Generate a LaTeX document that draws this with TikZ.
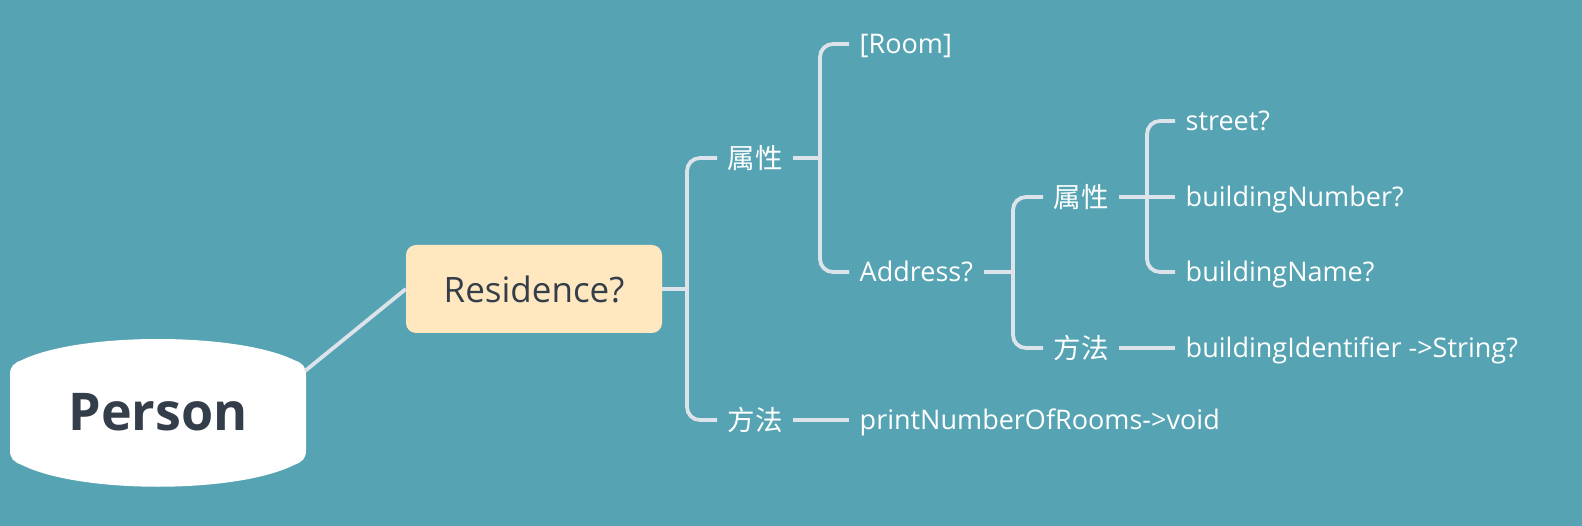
\documentclass[tikz,border=0pt]{standalone}
\usepackage{fontspec}
\setmainfont{Open Sans}
\newfontfamily\cjk{Noto Sans CJK SC}
\definecolor{bg}{HTML}{56A3B3}
\definecolor{ln}{HTML}{DCE3EA}
\definecolor{resfill}{HTML}{FFE8BF}
\definecolor{dark}{HTML}{343E4B}
\tikzset{
  conn/.style={draw=ln, line width=3.8pt, rounded corners=13pt},
  lbl/.style={anchor=west, text=white, inner xsep=10.5pt, inner ysep=0pt, text height=19.2pt, text depth=0pt, font=\fontsize{27}{29}\selectfont},
  cn/.style={lbl, text height=20.8pt, font=\cjk\fontsize{27.5}{29}\selectfont},
}
\begin{document}
\begin{tikzpicture}[x=1pt,y=-1pt]
\fill[bg] (0,0) rectangle (1582,526);
\useasboundingbox (0,0) rectangle (1582,526);
% Person shape
\fill[white] (10,375) .. controls (10,366) and (14,363) .. (22,360)
  .. controls (80,332) and (236,332) .. (294,360)
  .. controls (302,363) and (306,366) .. (306,375) -- (306,450)
  .. controls (306,459) and (302,462) .. (294,465)
  .. controls (236,494) and (80,494) .. (22,465)
  .. controls (14,462) and (10,459) .. (10,450) -- cycle;
\node[text=dark, font=\bfseries\fontsize{52}{54}\selectfont, inner sep=0pt] (person) at (158,412) {Person};
\coordinate (pr) at (305,371);
% Residence
\node[fill=resfill, rounded corners=10pt, minimum width=256pt, minimum height=88pt, inner sep=0pt, text=dark, font=\fontsize{35}{37}\selectfont] (res) at (534,289) {Residence?};
\draw[conn] (pr) -- (res.west);
% level 1
\node[cn] (a1) at (717,158) {属性};
\node[cn] (m1) at (717,420) {方法};
\coordinate (j1) at (687,289);
\draw[conn] (res.east) -- (j1);
\draw[conn] (j1) |- (a1.west);
\draw[conn] (j1) |- (m1.west);
% level 2
\node[lbl] (room) at (849,44) {[Room]};
\node[lbl] (addr) at (849,272) {Address?};
\node[lbl] (pnr) at (849,420) {printNumberOfRooms->void};
\coordinate (j2) at (820,158);
\draw[conn] (a1.east) -- (j2);
\draw[conn] (j2) |- (room.west);
\draw[conn] (j2) |- (addr.west);
\draw[conn] (m1.east) -- (pnr.west);
% level 3
\node[cn] (a2) at (1043,197) {属性};
\node[cn] (m2) at (1043,348) {方法};
\coordinate (j3) at (1013,272);
\draw[conn] (addr.east) -- (j3);
\draw[conn] (j3) |- (a2.west);
\draw[conn] (j3) |- (m2.west);
% level 4
\node[lbl] (street) at (1175,121) {street?};
\node[lbl] (bn) at (1175,197) {buildingNumber?};
\node[lbl] (bname) at (1175,272) {buildingName?};
\node[lbl] (bid) at (1175,348) {buildingIdentifier ->String?};
\coordinate (j4) at (1147,197);
\draw[conn] (a2.east) -- (bn.west);
\draw[conn] (j4) |- (street.west);
\draw[conn] (j4) |- (bname.west);
\draw[conn] (m2.east) -- (bid.west);
\end{tikzpicture}
\end{document}
